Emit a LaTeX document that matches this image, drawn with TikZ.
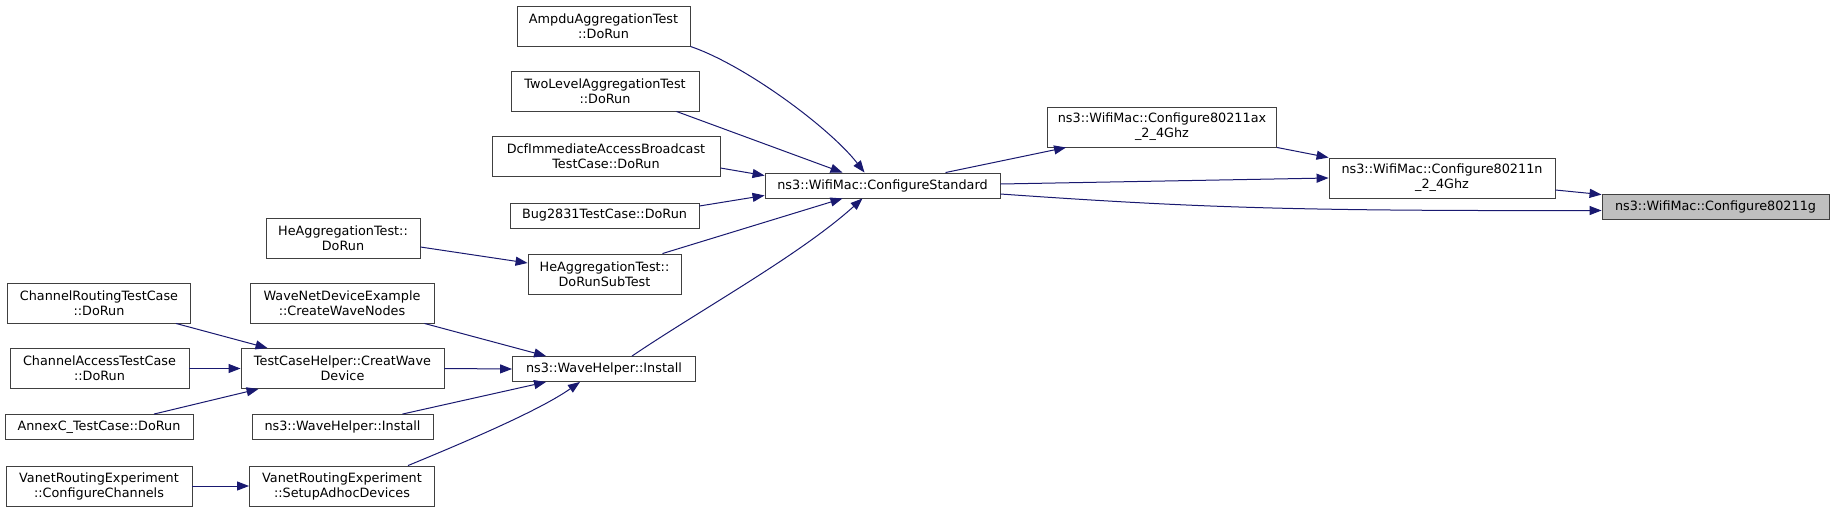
\documentclass[tikz,border=0pt]{standalone}
\usepackage{fontspec}
\setmainfont{DejaVu Sans}
\usepackage{xcolor}
\usetikzlibrary{arrows.meta,positioning}
\definecolor{edgeblue}{HTML}{191970}
\definecolor{selgray}{HTML}{BFBFBF}

\begin{document}
\begin{tikzpicture}[x=1pt,y=-1pt,
  fn/.style={rectangle,draw=black!75,line width=0.9pt,fill=white,align=center,inner sep=0pt,
    font=\fontsize{12.8pt}{15pt}\selectfont,minimum height=40pt},
  fnone/.style={fn,minimum height=25pt},
  call/.style={draw=edgeblue,line width=1pt,-{Triangle[length=12pt,width=9pt]}}]
\useasboundingbox[fill=white] (0,0) rectangle (1833,512);

% callers of ConfigureStandard
\node[fn,minimum width=173pt] (ampdu) at (603.5,26) {AmpduAggregationTest\\::DoRun};
\node[fn,minimum width=188pt] (twolevel) at (605,91) {TwoLevelAggregationTest\\::DoRun};
\node[fn,minimum width=228pt] (dcf) at (606,156) {DcfImmediateAccessBroadcast\\TestCase::DoRun};
\node[fnone,minimum width=189pt] (bug) at (604.5,215.5) {Bug2831TestCase::DoRun};
\node[fn,minimum width=154pt] (heagg) at (343,238) {HeAggregationTest::\\DoRun};
\node[fn,minimum width=153pt] (subtest) at (604.5,274) {HeAggregationTest::\\DoRunSubTest};

% wave helper branch
\node[fn,minimum width=183pt] (chrouting) at (99,303) {ChannelRoutingTestCase\\::DoRun};
\node[fn,minimum width=184pt] (wavenetdev) at (342,303) {WaveNetDeviceExample\\::CreateWaveNodes};
\node[fn,minimum width=179pt] (chaccess) at (99.5,368.5) {ChannelAccessTestCase\\::DoRun};
\node[fn,minimum width=203pt] (tch) at (342.5,368.5) {TestCaseHelper::CreatWave\\Device};
\node[fnone,minimum width=183pt] (wavehelper) at (604,369) {ns3::WaveHelper::Install};
\node[fnone,minimum width=188pt] (annexc) at (99,427) {AnnexC\_TestCase::DoRun};
\node[fnone,minimum width=181pt] (wavehelpertwo) at (342.5,427) {ns3::WaveHelper::Install};
\node[fn,minimum width=186pt] (vanetcc) at (99,486) {VanetRoutingExperiment\\::ConfigureChannels};
\node[fn,minimum width=185pt] (vanetsa) at (342,486) {VanetRoutingExperiment\\::SetupAdhocDevices};

% configure chain
\node[fnone,minimum width=235pt] (cs) at (882.5,185.5) {ns3::WifiMac::ConfigureStandard};
\node[fn,minimum width=229pt] (ax) at (1162,127) {ns3::WifiMac::Configure80211ax\\\_2\_4Ghz};
\node[fn,minimum width=226pt] (nn) at (1442,178) {ns3::WifiMac::Configure80211n\\\_2\_4Ghz};
\node[fnone,minimum width=227pt,fill=selgray] (gg) at (1715.5,206.5) {ns3::WifiMac::Configure80211g};

\draw[call] (ampdu.south east) .. controls (745,65) and (830,128) .. ([xshift=-18pt]cs.north);
\draw[call] ([xshift=-23pt]twolevel.south east) -- ([xshift=-40pt]cs.north);
\draw[call] ([yshift=-12pt]dcf.east) -- ([yshift=-3pt]cs.north west);
\draw[call] ([yshift=9.5pt]bug.east) -- ([yshift=3pt]cs.south west);
\draw[call] ([xshift=-19pt]subtest.north east) -- ([xshift=-40pt]cs.south);
\draw[call] ([xshift=28pt]wavehelper.north) .. controls (700,310) and (800,255) .. ([xshift=-20pt]cs.south);
\draw[call] ([yshift=-9pt]heagg.east) -- ([yshift=11pt]subtest.west);

\draw[call] ([xshift=-15pt]chrouting.south east) -- ([xshift=27pt]tch.north west);
\draw[call] (chaccess.east) -- (tch.west);
\draw[call] ([xshift=55pt]annexc.north) -- ([xshift=18pt]tch.south west);
\draw[call] ([xshift=-10pt]wavenetdev.south east) -- ([xshift=34pt]wavehelper.north west);
\draw[call] (tch.east) -- (wavehelper.west);
\draw[call] ([xshift=60pt]wavehelpertwo.north) -- ([xshift=34pt]wavehelper.south west);
\draw[call] ([xshift=66pt]vanetsa.north) .. controls (470,440) and (540,410) .. ([xshift=-24pt]wavehelper.south);
\draw[call] (vanetcc.east) -- (vanetsa.west);

\draw[call] ([xshift=63pt]cs.north) -- ([xshift=19pt]ax.south west);
\draw[call] ([yshift=1.5pt]cs.east) -- (nn.west);
\draw[call] ([yshift=-8.5pt]cs.east) .. controls (1200,208) and (1300,211) .. ([yshift=-4pt]gg.west);
\draw[call] (ax.south east) -- (nn.north west);
\draw[call] ([yshift=-12pt]nn.east) -- ([yshift=-1pt]gg.north west);
\end{tikzpicture}
\end{document}
